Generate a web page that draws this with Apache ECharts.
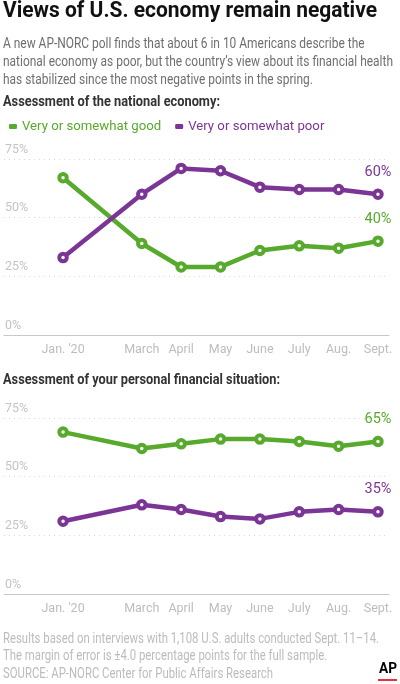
<!DOCTYPE html>
<html><head><meta charset="utf-8">
<script src="https://cdn.jsdelivr.net/npm/echarts@6/dist/echarts.min.js"></script>
<style>html,body{margin:0;padding:0;background:#fff}#c{width:400px;height:684px}</style>
</head><body><div id="c"></div>
<script>
const FONT = "Roboto, 'Liberation Sans', sans-serif";
const GREEN = '#57aa2c', PURPLE = '#7b3595';
const monthLabels = ["Jan. '20", "", "March", "April", "May", "June", "July", "Aug.", "Sept."];
const monthIdx = [0, 2, 3, 4, 5, 6, 7, 8];
const yTicks = [0, 25, 50, 75];
const nationalGood = [67, 39, 29, 29, 36, 38, 37, 40];
const nationalPoor = [33, 60, 71, 70, 63, 62, 62, 60];
const personalGood = [69, 62, 64, 66, 66, 65, 63, 65];
const personalPoor = [31, 38, 36, 33, 32, 35, 36, 35];

const pairs = vals => vals.map((v, i) => [monthIdx[i], v]);

const mctx = document.createElement('canvas').getContext('2d');
function fitText(text, font, fill, x, y, targetW, lineHeight) {
  mctx.font = font;
  const w = Math.max(...text.split('\n').map(l => mctx.measureText(l).width));
  const s = targetW / w;
  return {type: 'text', x, y, scaleX: s, scaleY: 1,
    style: {text, font, fill, lineHeight: lineHeight || undefined, verticalAlign: 'top', align: 'left'}};
}

const chart = echarts.init(document.getElementById('c'), null, {renderer: 'canvas'});

function xAxis(gi) {
  return {
    gridIndex: gi, type: 'value', min: -1.5, max: 8.28,
    axisLine: {show: true, lineStyle: {color: '#c8c8c8', width: 1}},
    axisTick: {show: false},
    splitLine: {show: false},
    axisLabel: {
      customValues: monthIdx, color: '#bdbdbd', fontSize: 12.5, fontFamily: FONT, margin: 8,
      formatter: v => monthLabels[Math.round(v)] || ''
    }
  };
}
function yAxis(gi) {
  return {
    gridIndex: gi, type: 'value', min: 0, max: 75, interval: 25,
    axisLine: {show: false}, axisTick: {show: false},
    splitLine: {show: true, lineStyle: {color: '#d8d8d8', type: [1, 4], width: 1}},
    axisLabel: {
      inside: true, verticalAlign: 'bottom', margin: 1, color: '#c4c4c4', fontSize: 12.5, fontFamily: FONT,
      formatter: v => yTicks.includes(v) ? v + '%' : '', padding: [0, 0, 3, 0]
    }
  };
}
function line(name, vals, color, gi) {
  const d = pairs(vals);
  const last = d.length - 1;
  return {
    name, type: 'line', xAxisIndex: gi, yAxisIndex: gi,
    data: d.map((p, i) => i === last ? {value: p, label: {show: true}} : p),
    symbol: 'circle', symbolSize: 7.5, showAllSymbol: true,
    lineStyle: {color, width: 4.5},
    itemStyle: {color: '#fff', borderColor: color, borderWidth: 4},
    label: {show: false, position: 'top', distance: 9, color, fontSize: 14.5, fontFamily: FONT,
      formatter: p => p.value[1] + '%'},
    emphasis: {disabled: true}, animation: false, z: 3
  };
}

chart.setOption({
  animation: false,
  textStyle: {fontFamily: FONT},
  grid: [
    {left: 4, right: 11, top: 159, bottom: 349},
    {left: 4, right: 11, top: 418, bottom: 90}
  ],
  xAxis: [xAxis(0), xAxis(1)],
  yAxis: [yAxis(0), yAxis(1)],
  legend: {
    left: 4, top: 115, itemWidth: 8, itemHeight: 5, itemGap: 14, icon: 'roundRect',
    textStyle: {fontSize: 13.2, fontFamily: FONT, padding: [0, 0, 0, 0]},
    selectedMode: false,
    data: [
      {name: 'Very or somewhat good', itemStyle: {color: GREEN, borderWidth: 0}, textStyle: {color: GREEN}},
      {name: 'Very or somewhat poor', itemStyle: {color: PURPLE, borderWidth: 0}, textStyle: {color: PURPLE}}
    ]
  },
  series: [
    line('Very or somewhat good', nationalGood, GREEN, 0),
    line('Very or somewhat poor', nationalPoor, PURPLE, 0),
    line('Very or somewhat good', personalGood, GREEN, 1),
    line('Very or somewhat poor', personalPoor, PURPLE, 1)
  ],
  graphic: [
    fitText('Views of U.S. economy remain negative', 'bold 22.5px ' + FONT, '#111', 3, 0, 374),
    fitText('A new AP-NORC poll finds that about 6 in 10 Americans describe the\nnational economy as poor, but the country\u2019s view about its financial health\nhas stabilized since the most negative points in the spring.',
      '14.5px ' + FONT, '#6f6f6f', 3, 35, 390, 18),
    fitText('Assessment of the national economy:', 'bold 14.5px ' + FONT, '#333', 3, 95, 217),
    fitText('Assessment of your personal financial situation:', 'bold 14.5px ' + FONT, '#333', 3, 373, 277),
    fitText('Results based on interviews with 1,108 U.S. adults conducted Sept. 11\u201314.\nThe margin of error is \u00b14.0 percentage points for the full sample.\nSOURCE: AP-NORC Center for Public Affairs Research',
      '14px ' + FONT, '#bcbcbc', 3, 631, 376, 17.3),
    fitText('AP', 'bold 15px ' + FONT, '#000', 379, 662, 18),
    {type: 'rect', shape: {x: 378, y: 679, width: 19, height: 2}, style: {fill: '#e8313a'}}
  ]
});
</script></body></html>
